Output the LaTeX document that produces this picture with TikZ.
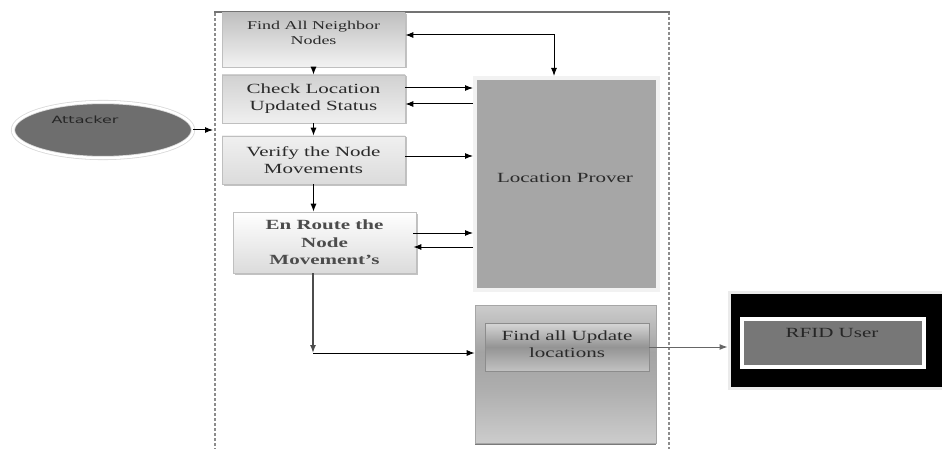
\documentclass[tikz,border=0pt]{standalone}
\usepackage{fontspec}
\setmainfont{Liberation Serif}[FakeStretch=1.5]
\newfontfamily\attfont{DejaVu Sans}[FakeStretch=1.6]
\usetikzlibrary{arrows.meta,shadows,calc,shapes.geometric}

\definecolor{txtgray}{HTML}{2A2A2A}
\definecolor{provergray}{HTML}{A6A6A6}
\definecolor{attgray}{HTML}{6E6E6E}
\definecolor{rfidgray}{HTML}{777777}

% vertical shadings (0bp = bottom, 100bp = top; 25bp..75bp covers the shape)
\pgfdeclareverticalshading{updouter}{100bp}{%
  color(0bp)=(black!20); color(25bp)=(black!20); color(45bp)=(black!32);
  color(58bp)=(black!36); color(75bp)=(black!20); color(100bp)=(black!20)}
\pgfdeclareverticalshading{updinner}{100bp}{%
  color(0bp)=(black!24); color(25bp)=(black!24); color(50bp)=(black!42);
  color(75bp)=(black!16); color(100bp)=(black!16)}

\tikzset{
  stepbox/.style={draw=black!25, line width=0.6pt, inner sep=0pt, align=center,
    minimum width=183pt, text=txtgray,
    font=\fontsize{14}{17}\selectfont,
    drop shadow={shadow xshift=1.5pt, shadow yshift=-1.5pt, fill=black!40, opacity=0.6}},
  txt/.style={align=center, inner sep=0pt, text=txtgray},
  arr/.style={-{Latex[length=8pt,width=6pt]}, line width=1pt, black},
  darr/.style={{Latex[length=8pt,width=6pt]}-{Latex[length=8pt,width=6pt]}, line width=1pt, black},
  framedash/.style={draw=black!45, line width=1.5pt, dash pattern=on 3pt off 2pt},
}

\begin{document}
\begin{tikzpicture}[x=1pt, y=1pt]
\useasboundingbox (0,0) rectangle (942,448);

% enclosing frame: solid top, dashed sides running off the bottom
\draw[framedash] (215,-3) -- (215,436);
\draw[framedash] (669,436) -- (669,-3);
\draw[draw=black!55, line width=2pt] (214,436) -- (670,436);
\coordinate (frameleft) at (213,318);

% step boxes of the left column
\node[stepbox, top color=black!25, bottom color=black!5, minimum height=54pt] (b1) at (313.5,408) {};
\node[txt, font=\fontsize{12}{15}\selectfont] at (313.5,415) {Find All Neighbor\\Nodes};

\node[stepbox, top color=black!18, bottom color=black!6, minimum height=48pt] (b2) at (313.5,349)
  {Check Location\\Updated Status};

\node[stepbox, top color=black!6, bottom color=black!14, minimum height=48pt] (b3) at (313.5,288)
  {Verify the Node\\Movements};

\node[stepbox, top color=white, bottom color=black!14, minimum height=61pt,
  font=\fontsize{14}{17.5}\selectfont\bfseries, text=black!70] (b4) at (324.5,205.5)
  {En Route the\\Node\\Movement's};

% location prover
\node[fill=provergray, draw=black!5, line width=4pt, minimum width=183pt, minimum height=212pt,
  inner sep=0pt,
  drop shadow={shadow xshift=2pt, shadow yshift=-2pt, fill=black!30, opacity=0.6}] (lp) at (566.5,264) {};
\node[txt, font=\fontsize{14}{17}\selectfont] at (565,270) {Location Prover};

% update locations
\node[draw=black!35, line width=0.6pt, minimum width=181pt, minimum height=138pt, inner sep=0pt,
  shading=updouter,
  drop shadow={shadow xshift=0pt, shadow yshift=-1.5pt, fill=black!65, opacity=0.8}] (ful) at (565.5,74) {};
\node[draw=black!45, line width=0.6pt, minimum width=164pt, minimum height=48pt, inner sep=0pt,
  shading=updinner,
  drop shadow={shadow xshift=0pt, shadow yshift=-1.2pt, fill=black!70, opacity=0.8}] (fin) at (567,101) {};
\node[txt, font=\fontsize{14}{17}\selectfont] at (567,104) {Find all Update\\locations};

% RFID user
\node[fill=black, draw=black!8, line width=3pt, minimum width=216pt, minimum height=96pt, inner sep=0pt] (rfid) at (837,108) {};
\node[fill=rfidgray, draw=white, line width=4pt, minimum width=182pt, minimum height=48pt, inner sep=0pt] (rfidin) at (832.5,105) {};
\node[txt, text=black!85, font=\fontsize{14}{17}\selectfont] at (832,115) {RFID User};

% attacker
\node[ellipse, fill=attgray, draw=black!15, line width=0.8pt, double=white, double distance=2.5pt,
  minimum width=180pt, minimum height=56pt, inner sep=0pt] (att) at (103,318) {};
\node[txt, text=black!85, font=\attfont\fontsize{10}{12}\selectfont] at (85,328) {Attacker};

% connectors
\draw[arr] (att.east) -- (frameleft);

\draw[arr] (b1.south) -- (b2.north);
\draw[arr] (b2.south) -- (b3.north);
\draw[arr] (b3.south) -- ($(b4.north)+(-11,0)$);

\draw[darr] ($(b1.east)+(0,5)$) -| ($(lp.north)+(-12.5,0)$);

\draw[arr] ($(b2.east)+(0,11)$) -- ($(b2.east -| lp.west)+(0,11)$);
\draw[arr] ($(b2.east -| lp.west)+(0,-5)$) -- ($(b2.east)+(0,-5)$);
\draw[arr] ($(b3.east)+(0,4)$) -- ($(b3.east -| lp.west)+(0,4)$);
\draw[arr] ($(b4.east)+(-3,9.5)$) -- ($(b4.east -| lp.west)+(0,9.5)$);
\draw[arr] ($(b4.east -| lp.west)+(0,-4.5)$) -- ($(b4.east)+(-3,-4.5)$);

\coordinate (dropx) at ($(b4.south)+(-11.5,0)$);
\coordinate (fulin) at ($(ful.west)+(0,21)$);
\coordinate (bend) at (dropx |- fulin);
\draw[arr, draw=black!70, line width=1.4pt] (dropx) -- (bend);
\draw[arr] (bend) -- (fulin);

\draw[arr, draw=black!60] (fin.east) -- (fin.east -| rfid.west);
\end{tikzpicture}
\end{document}
